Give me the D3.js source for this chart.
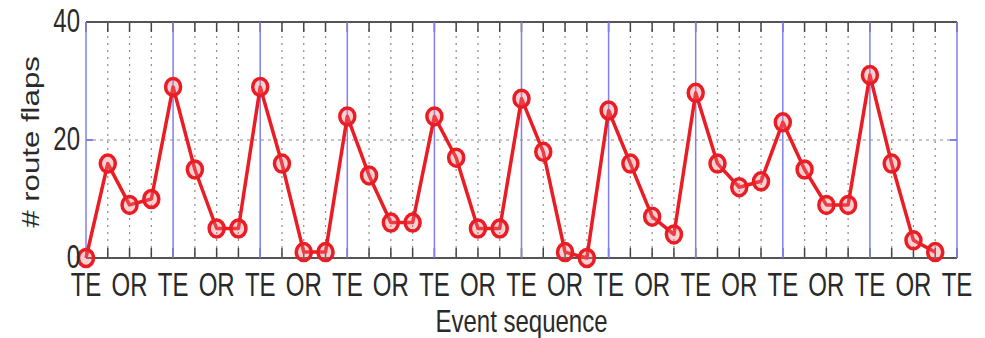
<!DOCTYPE html>
<html>
<head>
<meta charset="utf-8">
<script src="https://cdn.jsdelivr.net/npm/d3@7"></script>
<style>
	body { margin: 0; background: #fff; }
	text { font-family: "Liberation Sans", Arial, sans-serif; fill: #2a2a2a; }
</style>
</head>
<body>
<div id="chart"></div>
<script>
// route flaps per event, one entry per step of the sequence
var route_flaps = [0, 16, 9, 10, 29, 15, 5, 5, 29, 16, 1, 1, 24, 14, 6, 6, 24, 17, 5, 5,
	27, 18, 1, 0, 25, 16, 7, 4, 28, 16, 12, 13, 23, 15, 9, 9, 31, 16, 3, 1];

var x_tick_labels = ['TE', 'OR', 'TE', 'OR', 'TE', 'OR', 'TE', 'OR', 'TE', 'OR', 'TE',
	'OR', 'TE', 'OR', 'TE', 'OR', 'TE', 'OR', 'TE', 'OR', 'TE'];
var y_ticks = [0, 20, 40];

var x_label = 'Event sequence';
var y_label = '# route flaps';

var width = 985,
	height = 338,
	margin = {top: 22, right: 28, bottom: 80, left: 86},
	stretch = 1.35;

var svg = d3.select('#chart')
	.append('svg')
	.attr('width', width)
	.attr('height', height);

var x = d3.scaleLinear()
	.domain([0, 40])
	.range([margin.left, width - margin.right]);

var y = d3.scaleLinear()
	.domain([0, 40])
	.range([height - margin.bottom, margin.top]);

var steps = d3.range(0, 41);

// dotted grid at every step that is not a TE line
svg.append('g')
	.selectAll('line')
	.data(steps.filter(function(d) { return d % 4 != 0; }))
	.join('line')
	.attr('x1', function(d) { return x(d); })
	.attr('x2', function(d) { return x(d); })
	.attr('y1', y(40))
	.attr('y2', y(0))
	.attr('stroke', '#8a8a8a')
	.attr('stroke-width', 1.2)
	.attr('stroke-dasharray', '2,5');

svg.append('line')
	.attr('x1', x(0))
	.attr('x2', x(40))
	.attr('y1', y(20))
	.attr('y2', y(20))
	.attr('stroke', '#8a8a8a')
	.attr('stroke-width', 1.2)
	.attr('stroke-dasharray', '3,4');

// tick marks on top and bottom
var ticks = svg.append('g');
steps.forEach(function(d) {
	ticks.append('line')
		.attr('x1', x(d)).attr('x2', x(d))
		.attr('y1', y(40)).attr('y2', y(40) + 10)
		.attr('stroke', '#444').attr('stroke-width', 1.5);
	ticks.append('line')
		.attr('x1', x(d)).attr('x2', x(d))
		.attr('y1', y(0)).attr('y2', y(0) - 10)
		.attr('stroke', '#444').attr('stroke-width', 1.5);
});

// frame
svg.append('line')
	.attr('x1', x(0)).attr('x2', x(40))
	.attr('y1', y(40)).attr('y2', y(40))
	.attr('stroke', '#555').attr('stroke-width', 2);
svg.append('line')
	.attr('x1', x(0)).attr('x2', x(40))
	.attr('y1', y(0)).attr('y2', y(0))
	.attr('stroke', '#555').attr('stroke-width', 2);

// solid blue lines at each TE
svg.append('g')
	.selectAll('line')
	.data(steps.filter(function(d) { return d % 4 == 0; }))
	.join('line')
	.attr('x1', function(d) { return x(d); })
	.attr('x2', function(d) { return x(d); })
	.attr('y1', y(40))
	.attr('y2', y(0))
	.attr('stroke', '#7f7ff0')
	.attr('stroke-width', 1.5);

// y ticks at 20 on both sides
svg.append('line')
	.attr('x1', x(0)).attr('x2', x(0) + 7)
	.attr('y1', y(20)).attr('y2', y(20))
	.attr('stroke', '#7f7ff0').attr('stroke-width', 2);
svg.append('line')
	.attr('x1', x(40) - 7).attr('x2', x(40))
	.attr('y1', y(20)).attr('y2', y(20))
	.attr('stroke', '#7f7ff0').attr('stroke-width', 2);

// series
var line = d3.line()
	.x(function(d, i) { return x(i); })
	.y(function(d) { return y(d); });

svg.append('path')
	.datum(route_flaps)
	.attr('d', line)
	.attr('fill', 'none')
	.attr('stroke', '#ea1c24')
	.attr('stroke-width', 3.5)
	.attr('stroke-linejoin', 'round');

svg.append('g')
	.selectAll('ellipse')
	.data(route_flaps)
	.join('ellipse')
	.attr('cx', function(d, i) { return x(i); })
	.attr('cy', function(d) { return y(d); })
	.attr('rx', 7.5)
	.attr('ry', 8.5)
	.attr('fill', 'rgba(240,120,130,0.35)')
	.attr('stroke', '#ea1c24')
	.attr('stroke-width', 3.5);

// tick labels
svg.append('g')
	.selectAll('text')
	.data(x_tick_labels)
	.join('text')
	.attr('transform', function(d, i) {
		return 'translate(' + x(i * 2) + ',296) scale(1,' + stretch + ')';
	})
	.attr('text-anchor', 'middle')
	.style('font-size', '24px')
	.text(function(d) { return d; });

svg.append('g')
	.selectAll('text')
	.data(y_ticks)
	.join('text')
	.attr('transform', function(d) {
		return 'translate(80,' + (y(d) + 10) + ') scale(1,' + stretch + ')';
	})
	.attr('text-anchor', 'end')
	.style('font-size', '24px')
	.text(function(d) { return d; });

// axis titles
svg.append('text')
	.attr('transform', 'translate(' + (x(20)) + ',332) scale(1,1.3)')
	.attr('text-anchor', 'middle')
	.style('font-size', '24px')
	.text(x_label);

svg.append('text')
	.attr('transform', 'translate(39,142) scale(1,1.3) rotate(-90)')
	.attr('text-anchor', 'middle')
	.style('font-size', '24px')
	.text(y_label);
</script>
</body>
</html>
